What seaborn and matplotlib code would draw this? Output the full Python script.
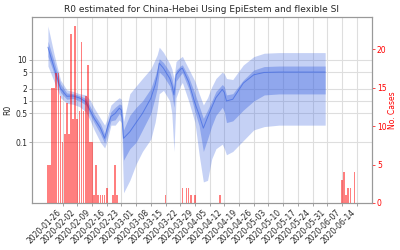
import pandas as pd
import seaborn as sns
import matplotlib
matplotlib.use('Agg')
import matplotlib.pyplot as plt
import matplotlib.dates as mdates
from matplotlib.ticker import FixedLocator, FixedFormatter, NullLocator

# daily new cases (days with no cases left out)
case_dates = ['2020-01-19', '2020-01-20', '2020-01-21', '2020-01-22', '2020-01-23', '2020-01-24',
              '2020-01-25', '2020-01-26', '2020-01-27', '2020-01-28', '2020-01-29', '2020-01-30',
              '2020-01-31', '2020-02-01', '2020-02-02', '2020-02-03', '2020-02-04', '2020-02-05',
              '2020-02-06', '2020-02-07', '2020-02-08', '2020-02-09', '2020-02-10', '2020-02-11',
              '2020-02-12', '2020-02-13', '2020-02-14', '2020-02-15', '2020-02-16', '2020-02-19',
              '2020-02-20', '2020-02-21', '2020-03-15', '2020-03-23', '2020-03-25', '2020-03-26',
              '2020-03-27', '2020-03-29', '2020-04-10', '2020-06-07', '2020-06-08', '2020-06-09',
              '2020-06-10', '2020-06-11', '2020-06-13']
case_counts = [5, 5, 15, 15, 17, 17,
               14, 8, 9, 13, 9, 22,
               11, 23, 11, 12, 21, 12,
               14, 18, 8, 8, 1, 5,
               1, 1, 1, 1, 2, 1,
               5, 1, 1, 2, 2, 2,
               1, 1, 1, 3, 4, 1,
               2, 2, 4]

# R0 estimate: median with inner and outer credible bands
r_dates = ['2020-01-19', '2020-01-22', '2020-01-25', '2020-01-28', '2020-01-31', '2020-02-03',
           '2020-02-06', '2020-02-08', '2020-02-10', '2020-02-13', '2020-02-15', '2020-02-16',
           '2020-02-18', '2020-02-20', '2020-02-22', '2020-02-23', '2020-02-24', '2020-02-27',
           '2020-03-01', '2020-03-04', '2020-03-08', '2020-03-10', '2020-03-11', '2020-03-12',
           '2020-03-14', '2020-03-17', '2020-03-18', '2020-03-19', '2020-03-20', '2020-03-22',
           '2020-03-23', '2020-03-26', '2020-03-29', '2020-03-31', '2020-04-02', '2020-04-04',
           '2020-04-06', '2020-04-08', '2020-04-11', '2020-04-12', '2020-04-13', '2020-04-16',
           '2020-04-21', '2020-04-26', '2020-05-01', '2020-05-08', '2020-05-30']
r_median = [20, 6.2, 2.0, 1.3, 1.32, 1.18,
            0.96, 0.6, 0.38, 0.22, 0.125, 0.2,
            0.42, 0.5, 0.67, 0.6, 0.125, 0.18,
            0.3, 0.5, 1.16, 2.4, 4.0, 8.2,
            6.2, 3.5, 2.5, 1.4, 4.3, 5.8,
            6.2, 2.9, 0.88, 0.46, 0.22, 0.4,
            0.7, 1.2, 1.9, 1.6, 1.0, 1.1,
            2.7, 4.3, 4.9, 5.0, 5.0]
r_inner_lo = [12, 4.5, 1.6, 1.1, 1.15, 1.0,
              0.8, 0.47, 0.3, 0.16, 0.095, 0.15,
              0.33, 0.35, 0.5, 0.4, 0.037, 0.07,
              0.1, 0.2, 0.5, 1.2, 2.0, 5.0,
              4.0, 2.3, 1.5, 0.7, 3.0, 4.2,
              4.8, 2.0, 0.55, 0.25, 0.06, 0.12,
              0.25, 0.45, 0.7, 0.55, 0.3, 0.33,
              0.6, 1.0, 1.4, 1.48, 1.48]
r_inner_hi = [28, 8.8, 2.6, 1.56, 1.5, 1.35,
              1.15, 0.75, 0.48, 0.28, 0.16, 0.26,
              0.55, 0.7, 0.85, 0.8, 0.2, 0.45,
              0.7, 1.0, 2.0, 4.0, 6.0, 10.5,
              8.5, 5.0, 3.5, 2.0, 5.5, 7.0,
              7.5, 3.8, 1.5, 0.75, 0.38, 0.6,
              1.0, 1.7, 2.5, 2.2, 1.4, 1.5,
              3.2, 5.6, 6.8, 7.0, 7.0]
r_outer_lo = [7, 2.9, 1.2, 0.88, 0.83, 0.73,
              0.55, 0.35, 0.2, 0.1, 0.073, 0.1,
              0.26, 0.26, 0.35, 0.3, 0.006, 0.012,
              0.03, 0.06, 0.12, 0.3, 0.6, 1.5,
              1.8, 1.0, 0.5, 0.06, 1.2, 2.3,
              2.8, 1.0, 0.3, 0.05, 0.011, 0.012,
              0.04, 0.07, 0.09, 0.07, 0.05, 0.06,
              0.11, 0.2, 0.24, 0.26, 0.26]
r_outer_hi = [65, 13, 3.2, 1.85, 1.7, 1.5,
              1.4, 1.06, 0.68, 0.38, 0.26, 0.35,
              0.8, 1.0, 1.2, 1.1, 0.32, 1.5,
              2.3, 3.5, 6.0, 10, 13, 20,
              15, 8, 6, 3.5, 9, 11,
              12, 6, 3, 1.5, 0.8, 1.2,
              2.2, 3.5, 5, 4.5, 3.5, 3.3,
              7.4, 11.8, 14.3, 14.8, 14.8]

case_dates = pd.to_datetime(case_dates)
r_dates = pd.to_datetime(r_dates)

sns.set_style('whitegrid', {'axes.edgecolor': '0.6', 'grid.color': '0.87'})
plt.rcParams['font.family'] = ['DejaVu Sans']
plt.rcParams['font.size'] = 5.5

fig = plt.figure(figsize=(4, 2.5), dpi=100)
ax = fig.add_axes([0.08, 0.188, 0.85, 0.743])

# R0 bands and median
ax.fill_between(r_dates, r_outer_lo, r_outer_hi, color='royalblue', alpha=0.3, lw=0)
ax.fill_between(r_dates, r_inner_lo, r_inner_hi, color='royalblue', alpha=0.4, lw=0)
sns.lineplot(x=r_dates, y=r_median, ax=ax, color='royalblue', lw=0.7, alpha=0.7)

ax.set_yscale('log')
ax.set_ylim(0.0034, 106)
ax.yaxis.set_major_locator(FixedLocator([0.1, 0.5, 1, 2, 5, 10]))
ax.yaxis.set_major_formatter(FixedFormatter(['0.1', '0.5', '1', '2', '5', '10']))
ax.yaxis.set_minor_locator(NullLocator())
ax.set_xlabel('')
ax.set_ylabel('R0', fontsize=5.5, labelpad=2)
ax.set_title('R0 estimated for China-Hebei Using EpiEstem and flexible SI', fontsize=6.5, pad=4)

# daily cases on the right axis
ax2 = ax.twinx()
ax2.bar(case_dates, case_counts, width=0.8, color='red', alpha=0.5, lw=0)
ax2.set_ylim(0, 24.2)
ax2.set_yticks([0, 5, 10, 15, 20])
ax2.grid(False)
ax2.set_ylabel('No. Cases', color='red', fontsize=5.5, labelpad=1)
ax2.tick_params(axis='y', colors='red', labelsize=5.5, length=2, width=0.5, right=True, pad=1.5)

ticks = pd.date_range('2020-01-26', '2020-06-14', freq='7D')
ax.set_xticks(ticks)
ax.xaxis.set_major_formatter(mdates.DateFormatter('%Y-%m-%d'))
ax.set_xlim(pd.Timestamp('2020-01-11 10:00'), pd.Timestamp('2020-06-21 07:00'))
ax.tick_params(axis='both', labelsize=5.5, length=2, width=0.5, color='0.5', bottom=True, left=True, pad=1.5)
plt.setp(ax.get_xticklabels(), rotation=45, ha='right')

fig.savefig('out.png', dpi=100)
